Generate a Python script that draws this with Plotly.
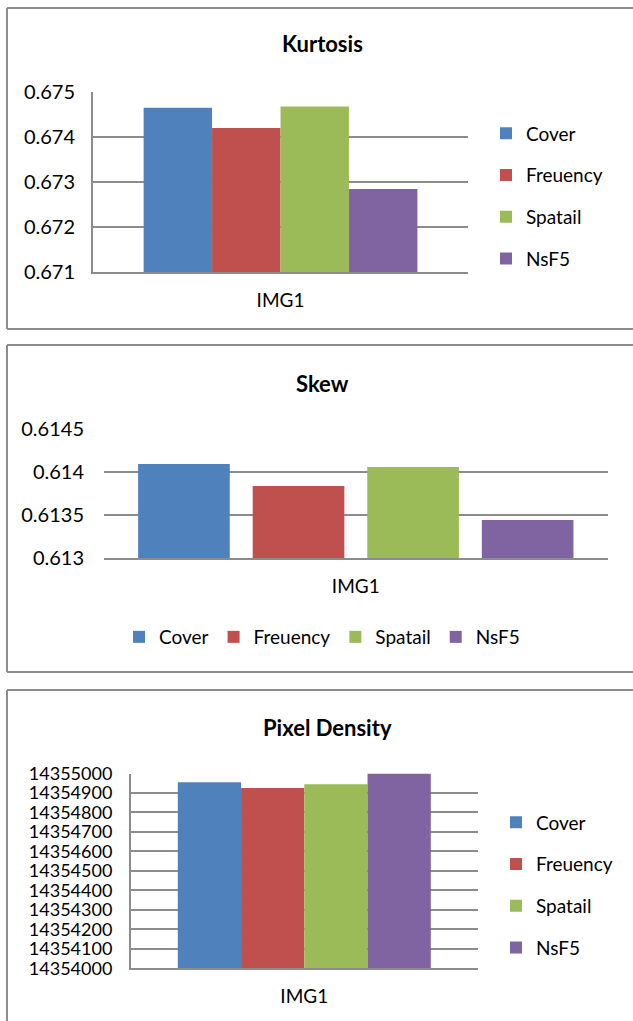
import plotly.graph_objects as go

# Series names and colours shared by all three charts
series = ["Cover", "Freuency", "Spatail", "NsF5"]
colors = ["#4F81BD", "#C0504D", "#9BBB59", "#8064A2"]
category = ["IMG1"]

# Measured values per chart
kurtosis = [0.674638, 0.674193, 0.674667, 0.672838]
skew = [0.614093, 0.613837, 0.614058, 0.613442]
pixel_density = [14354955, 14354925, 14354945, 14355000]

# Axis ticks
kurt_ticks = [0.671, 0.672, 0.673, 0.674, 0.675]
kurt_ticktext = ["0.671", "0.672", "0.673", "0.674", "0.675"]
skew_ticks = [0.613, 0.6135, 0.614, 0.6145]
skew_ticktext = ["0.613", "0.6135", "0.614", "0.6145"]
pd_ticks = list(range(14354000, 14355001, 100))
pd_ticktext = [str(v) for v in pd_ticks]

W, H = 633, 1021
FONT = "Lato"
GRID = "#8c8c8c"
TXT = "#000000"


def px_x(p):
    return p / W


def px_y(p):
    return 1 - p / H


fig = go.Figure()

# Skew chart draws separated bars: group fills 91% of the category,
# each bar takes 80% of its slot
SKEW_GROUP = 0.91
SKEW_SLOT = SKEW_GROUP / len(series)
SKEW_BAR = 0.8 * SKEW_SLOT

charts = [
    ("x", "y", "legend", "k", kurtosis),
    ("x2", "y2", "legend2", "s", skew),
    ("x3", "y3", "legend3", "p", pixel_density),
]
for xa, ya, leg, tag, vals in charts:
    for i, (name, col, v) in enumerate(zip(series, colors, vals)):
        kw = {}
        if tag == "s":
            kw = dict(width=SKEW_BAR,
                      offset=-SKEW_GROUP / 2 + i * SKEW_SLOT + 0.1 * SKEW_SLOT)
        fig.add_trace(go.Bar(
            x=category, y=[v], name=name, marker_color=col,
            marker_line_width=0, xaxis=xa, yaxis=ya, legend=leg,
            legendgroup=f"{tag}_{name}", hoverinfo="name+y", **kw,
        ))

axis_common = dict(
    showgrid=True, gridcolor=GRID, gridwidth=2,
    linecolor=GRID, linewidth=2, zeroline=False, automargin=False,
    ticks="", fixedrange=True,
)
xaxis_common = dict(
    type="category", showgrid=False, showline=True, automargin=False,
    linecolor=GRID, linewidth=2, zeroline=False,
    tickfont=dict(family=FONT, size=19, color=TXT),
    ticks="", ticklabelstandoff=10, fixedrange=True,
)
tick20 = dict(family=FONT, size=20, color=TXT)
tick18 = dict(family=FONT, size=18, color=TXT)

fig.update_layout(
    width=W, height=H,
    margin=dict(l=0, r=0, t=0, b=0, autoexpand=False),
    paper_bgcolor="white", plot_bgcolor="white",
    barmode="group", bargap=0.27, bargroupgap=0,
    showlegend=True,
    font=dict(family=FONT, color=TXT),
    # Kurtosis
    xaxis=dict(domain=[px_x(93), px_x(468)], anchor="y", **xaxis_common),
    yaxis=dict(domain=[px_y(272), px_y(91.5)], anchor="x",
               range=[0.671, 0.675], tickvals=kurt_ticks,
               ticktext=kurt_ticktext, showline=True, tickfont=tick20,
               ticklabelstandoff=12, **axis_common),
    # Skew
    xaxis2=dict(domain=[px_x(104), px_x(607.6)], anchor="y2", **xaxis_common),
    yaxis2=dict(domain=[px_y(558), px_y(429)], anchor="x2",
                range=[0.613, 0.6145], tickvals=skew_ticks,
                ticktext=skew_ticktext, showline=False, tickfont=tick20,
                ticklabelstandoff=19, **axis_common),
    # Pixel Density
    xaxis3=dict(domain=[px_x(131), px_x(477.6)], anchor="y3", **xaxis_common),
    yaxis3=dict(domain=[px_y(968.3), px_y(773.5)], anchor="x3",
                range=[14354000, 14355000], tickvals=pd_ticks,
                ticktext=pd_ticktext, showline=True, tickfont=tick18,
                ticklabelstandoff=13, **axis_common),
    legend=dict(
        x=px_x(486), y=px_y(196), xanchor="left", yanchor="middle",
        orientation="v", traceorder="grouped", tracegroupgap=14,
        itemwidth=30, bgcolor="rgba(0,0,0,0)",
        font=dict(family=FONT, size=19, color=TXT),
        itemclick=False, itemdoubleclick=False,
    ),
    legend2=dict(
        x=px_x(119), y=px_y(637), xanchor="left", yanchor="middle",
        orientation="h", traceorder="normal",
        itemwidth=30, bgcolor="rgba(0,0,0,0)",
        font=dict(family=FONT, size=19, color=TXT),
        itemclick=False, itemdoubleclick=False,
    ),
    legend3=dict(
        x=px_x(496), y=px_y(885), xanchor="left", yanchor="middle",
        orientation="v", traceorder="grouped", tracegroupgap=14,
        itemwidth=30, bgcolor="rgba(0,0,0,0)",
        font=dict(family=FONT, size=19, color=TXT),
        itemclick=False, itemdoubleclick=False,
    ),
)

# Chart titles
titles = [("Kurtosis", 322, 43), ("Skew", 322, 383), ("Pixel Density", 327, 727)]
for text, cx, cy in titles:
    fig.add_annotation(
        text=f"<b>{text}</b>", x=px_x(cx), y=px_y(cy),
        xref="paper", yref="paper", showarrow=False,
        xanchor="center", yanchor="middle",
        font=dict(family=FONT, size=22, color=TXT),
    )

# Chart frames (right side runs off the page)
frames = [(8, 329, True), (345, 672, True), (690, None, False)]
for top, bottom, has_bottom in frames:
    line = dict(color=GRID, width=2)
    fig.add_shape(type="line", xref="paper", yref="paper",
                  x0=px_x(7), x1=1.01, y0=px_y(top), y1=px_y(top), line=line)
    fig.add_shape(type="line", xref="paper", yref="paper",
                  x0=px_x(7), x1=px_x(7), y0=px_y(top),
                  y1=px_y(bottom) if has_bottom else -0.01, line=line)
    if has_bottom:
        fig.add_shape(type="line", xref="paper", yref="paper",
                      x0=px_x(7), x1=1.01, y0=px_y(bottom), y1=px_y(bottom),
                      line=line)

fig.write_html("out.html")
